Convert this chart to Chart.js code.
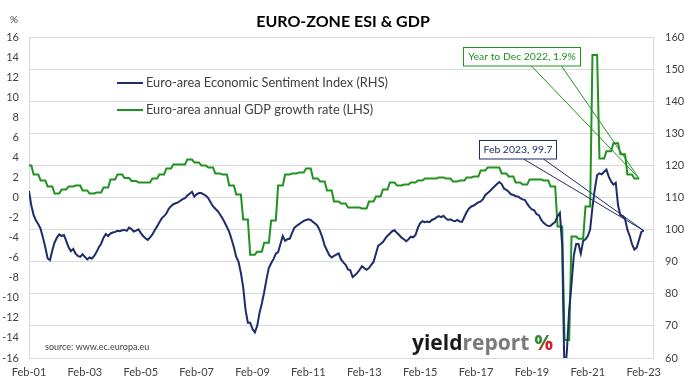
<!DOCTYPE html>
<html><head><meta charset="utf-8">
<script src="https://cdn.jsdelivr.net/npm/chart.js@4.4.0/dist/chart.umd.min.js"></script>
<style>html,body{margin:0;padding:0;background:#fff;overflow:hidden}#wrap{width:699px;height:383px;position:relative}</style>
</head><body><div id="wrap"><canvas id="c" width="699" height="383"></canvas></div>
<script>
// X-axis tick labels (every 24 months starting Feb-01)
const xTickLabels = ['Feb-01','Feb-03','Feb-05','Feb-07','Feb-09','Feb-11','Feb-13','Feb-15','Feb-17','Feb-19','Feb-21','Feb-23'];

// Euro-area Economic Sentiment Index, monthly Feb-2001 .. Feb-2023 (RHS)
const esiMonthly = [
 112.0,107.5,104.5,102.8,101.7,100.2,97.5,94.5,91.0,90.5,93.5,96.0,
 97.5,98.5,98.0,98.3,96.5,94.5,93.3,94.0,92.5,91.8,91.5,92.3,
 91.5,90.7,91.3,91.0,91.8,93.0,94.5,95.6,97.5,98.6,98.0,98.8,
 99.1,99.3,99.6,99.5,99.8,99.9,99.6,100.6,100.2,99.4,99.7,100.1,
 99.0,98.0,97.3,96.8,97.6,98.5,99.8,101.0,102.3,103.5,104.2,105.0,
 106.5,107.3,107.9,108.2,108.5,109.0,109.5,109.8,110.6,111.2,111.8,110.3,
 111.0,111.4,111.4,111.0,110.5,109.8,108.5,107.3,106.5,105.8,104.8,103.6,
 102.3,100.8,99.3,97.0,94.5,91.5,90.0,86.5,82.0,75.0,71.0,71.0,
 69.0,68.0,70.0,74.0,77.0,80.5,84.5,88.0,89.5,90.8,92.5,93.0,
 95.5,98.0,96.5,97.0,97.2,99.0,100.6,101.2,101.7,102.2,102.7,103.0,
 103.2,103.0,102.4,101.8,101.1,99.5,97.5,95.0,93.5,92.0,91.3,91.8,
 92.2,92.6,90.7,89.8,89.0,87.6,87.3,85.2,85.8,86.5,87.5,88.6,
 88.0,87.5,88.0,89.0,90.0,92.5,95.0,95.5,96.1,97.2,98.1,98.8,
 99.5,99.8,99.0,98.3,97.5,97.0,96.4,97.0,97.8,97.6,98.3,100.5,
 102.0,102.6,102.3,102.5,102.3,103.0,103.3,103.8,104.2,103.9,104.3,103.5,
 103.0,103.2,102.8,102.6,103.0,102.5,102.4,104.0,105.5,106.6,107.2,107.5,
 108.0,108.5,108.8,109.5,110.8,111.4,112.0,112.8,113.5,114.2,114.8,114.2,
 112.8,112.4,111.8,111.0,110.8,110.4,110.3,109.8,109.4,109.2,108.0,107.0,
 106.3,106.0,104.8,104.5,103.0,102.1,101.5,101.1,101.2,101.8,102.4,104.2,
 105.2,95.0,54.0,62.0,75.0,83.0,92.0,95.5,95.5,92.5,96.5,97.0,
 98.0,100.0,107.0,112.5,117.0,117.5,117.2,118.0,118.7,116.5,115.0,114.0,
 114.6,107.5,104.5,104.2,103.3,100.0,98.0,95.5,93.8,94.4,96.8,99.3,
 99.7
];

// Euro-area annual GDP growth rate, quarterly Q1-2001 .. Q4-2022 (LHS, %)
const gdpQuarterly = [
 3.2,2.3,1.7,1.1,
 0.4,0.8,1.1,1.2,
 0.7,0.4,0.5,1.0,
 1.8,2.3,1.95,1.65,
 1.5,1.5,1.9,2.3,
 2.9,3.3,3.3,3.8,
 3.5,3.2,3.0,2.4,
 2.3,1.2,0.3,-2.2,
 -5.7,-5.4,-4.5,-2.3,
 1.2,2.3,2.4,2.5,
 2.9,1.9,1.6,0.7,
 -0.4,-0.6,-1.0,-1.0,
 -1.1,-0.4,0.1,0.8,
 1.5,1.2,1.3,1.5,
 1.7,1.9,1.9,2.0,
 1.9,1.6,1.7,2.0,
 2.1,2.7,3.0,3.0,
 2.4,2.1,1.5,1.3,
 1.8,1.8,1.7,1.1,
 -2.9,-14.2,-3.9,-4.1,
 -0.9,14.2,3.9,4.6,
 5.4,4.3,2.3,1.9
];

const esiLabel = 'Euro-area Economic Sentiment Index (RHS)';
const gdpLabel = 'Euro-area annual GDP growth rate (LHS)';
const titleText = 'EURO-ZONE ESI & GDP';
const gdpNote = 'Year to Dec 2022, 1.9%';
const esiNote = 'Feb 2023, 99.7';
const sourceText = 'source: www.ec.europa.eu';

const ESI_COLOR = '#1c2d6b';
const GDP_COLOR = '#1f9320';
const FONT = 'Lato, "Open Sans", sans-serif';

// month index 0 = Feb-2001; quarter of month m = floor((m+1)/3)
const esiPoints = esiMonthly.map((v, i) => ({x: i, y: v}));
const gdpPoints = [];
for (let m = 0; m <= 262; m++) gdpPoints.push({x: m, y: gdpQuarterly[Math.floor((m + 1) / 3)]});

const decor = {
  id: 'decor',
  afterDraw(chart) {
    const ctx = chart.ctx;
    ctx.save();
    // title
    ctx.fillStyle = '#000';
    ctx.font = 'bold 16px ' + FONT;
    ctx.textAlign = 'center';
    ctx.textBaseline = 'middle';
    ctx.fillText(titleText, 343, 22);
    // % unit
    ctx.font = '10px ' + FONT;
    ctx.fillStyle = '#404040';
    ctx.fillText('%', 14, 20);
    // legend
    ctx.textAlign = 'left';
    ctx.font = '12.8px ' + FONT;
    const rows = [[chart.data.datasets[0], 83], [chart.data.datasets[1], 110]];
    rows.forEach(([ds, y]) => {
      ctx.strokeStyle = ds.borderColor; ctx.lineWidth = 2;
      ctx.beginPath(); ctx.moveTo(117, y); ctx.lineTo(143, y); ctx.stroke();
      ctx.fillStyle = '#404040';
      ctx.fillText(ds.label, 146, y);
    });
    // source
    ctx.font = '9px ' + FONT;
    ctx.fillStyle = '#404040';
    ctx.fillText(sourceText, 45, 347);
    // logo
    ctx.textBaseline = 'alphabetic';
    ctx.font = 'bold 21px "Open Sans", sans-serif';
    let lx = 412;
    ctx.fillStyle = '#1a1a1a'; ctx.fillText('yield', lx, 350); lx += ctx.measureText('yield').width;
    ctx.fillStyle = '#7a7a7a'; ctx.fillText('report', lx, 350); lx += ctx.measureText('report').width + 5;
    const pw = ctx.measureText('%').width;
    const g = ctx.createLinearGradient(lx, 336, lx + pw, 350);
    g.addColorStop(0, '#2d8a2d'); g.addColorStop(0.5, '#2d8a2d'); g.addColorStop(0.5, '#d0202a'); g.addColorStop(1, '#d0202a');
    ctx.fillStyle = g; ctx.fillText('%', lx, 350);
    // callouts
    const xs = chart.scales.x, yl = chart.scales.yL, yr = chart.scales.yR;
    const gx = xs.getPixelForValue(262), gy = yl.getPixelForValue(gdpQuarterly[87]);
    const ex = xs.getPixelForValue(264), ey = yr.getPixelForValue(esiMonthly[264]);
    ctx.lineWidth = 1;
    // green
    ctx.strokeStyle = GDP_COLOR;
    ctx.beginPath(); ctx.moveTo(531.5, 66); ctx.lineTo(gx, gy); ctx.moveTo(561.5, 66); ctx.lineTo(gx, gy); ctx.stroke();
    ctx.fillStyle = '#fff'; ctx.fillRect(463.5, 47.5, 117, 18.5);
    ctx.strokeRect(463.5, 47.5, 117, 18.5);
    ctx.fillStyle = GDP_COLOR; ctx.font = '10.4px ' + FONT; ctx.textAlign = 'center'; ctx.textBaseline = 'middle';
    ctx.fillText(gdpNote, 522, 57);
    // blue
    ctx.strokeStyle = ESI_COLOR;
    ctx.beginPath(); ctx.moveTo(523.5, 159); ctx.lineTo(ex, ey); ctx.moveTo(543.5, 159); ctx.lineTo(ex, ey); ctx.stroke();
    ctx.fillStyle = '#fff'; ctx.fillRect(479.5, 140.5, 77, 18.5);
    ctx.strokeRect(479.5, 140.5, 77, 18.5);
    ctx.fillStyle = ESI_COLOR;
    ctx.fillText(esiNote, 518, 150);
    ctx.restore();
  }
};

const tickFont = {family: FONT, size: 11};
new Chart(document.getElementById('c'), {
  type: 'line',
  data: {
    datasets: [
      {label: esiLabel, data: esiPoints, yAxisID: 'yR', borderColor: ESI_COLOR, backgroundColor: ESI_COLOR, borderWidth: 2, pointRadius: 0, tension: 0, fill: false},
      {label: gdpLabel, data: gdpPoints, yAxisID: 'yL', borderColor: GDP_COLOR, backgroundColor: GDP_COLOR, borderWidth: 2, pointRadius: 0, tension: 0, fill: false}
    ]
  },
  options: {
    responsive: false, animation: false, devicePixelRatio: 1,
    layout: {padding: {top: 37, left: 0, right: 0, bottom: 0}},
    plugins: {legend: {display: false}, tooltip: {enabled: false}, title: {display: false}},
    scales: {
      x: {
        type: 'linear', min: 0, max: 268,
        grid: {display: false, drawTicks: false}, border: {display: false},
        afterBuildTicks: s => { s.ticks = xTickLabels.map((_, i) => ({value: i * 24})); },
        ticks: {autoSkip: false, maxRotation: 0, padding: 8, font: tickFont, color: '#404040',
          callback: (v, i) => xTickLabels[i]},
        afterFit: s => { s.height = 25; }
      },
      yL: {
        position: 'left', min: -16, max: 16,
        grid: {display: false, drawTicks: false}, border: {display: true, color: '#d9d9d9'},
        ticks: {stepSize: 2, padding: 10, font: tickFont, color: '#404040'},
        afterFit: s => { s.width = 29; }
      },
      yR: {
        position: 'right', min: 60, max: 160,
        grid: {color: '#d9d9d9', drawTicks: false}, border: {display: true, color: '#d9d9d9'},
        ticks: {stepSize: 10, padding: 12, font: tickFont, color: '#404040'},
        afterFit: s => { s.width = 46; }
      }
    }
  },
  plugins: [decor]
});
</script>
</body></html>
